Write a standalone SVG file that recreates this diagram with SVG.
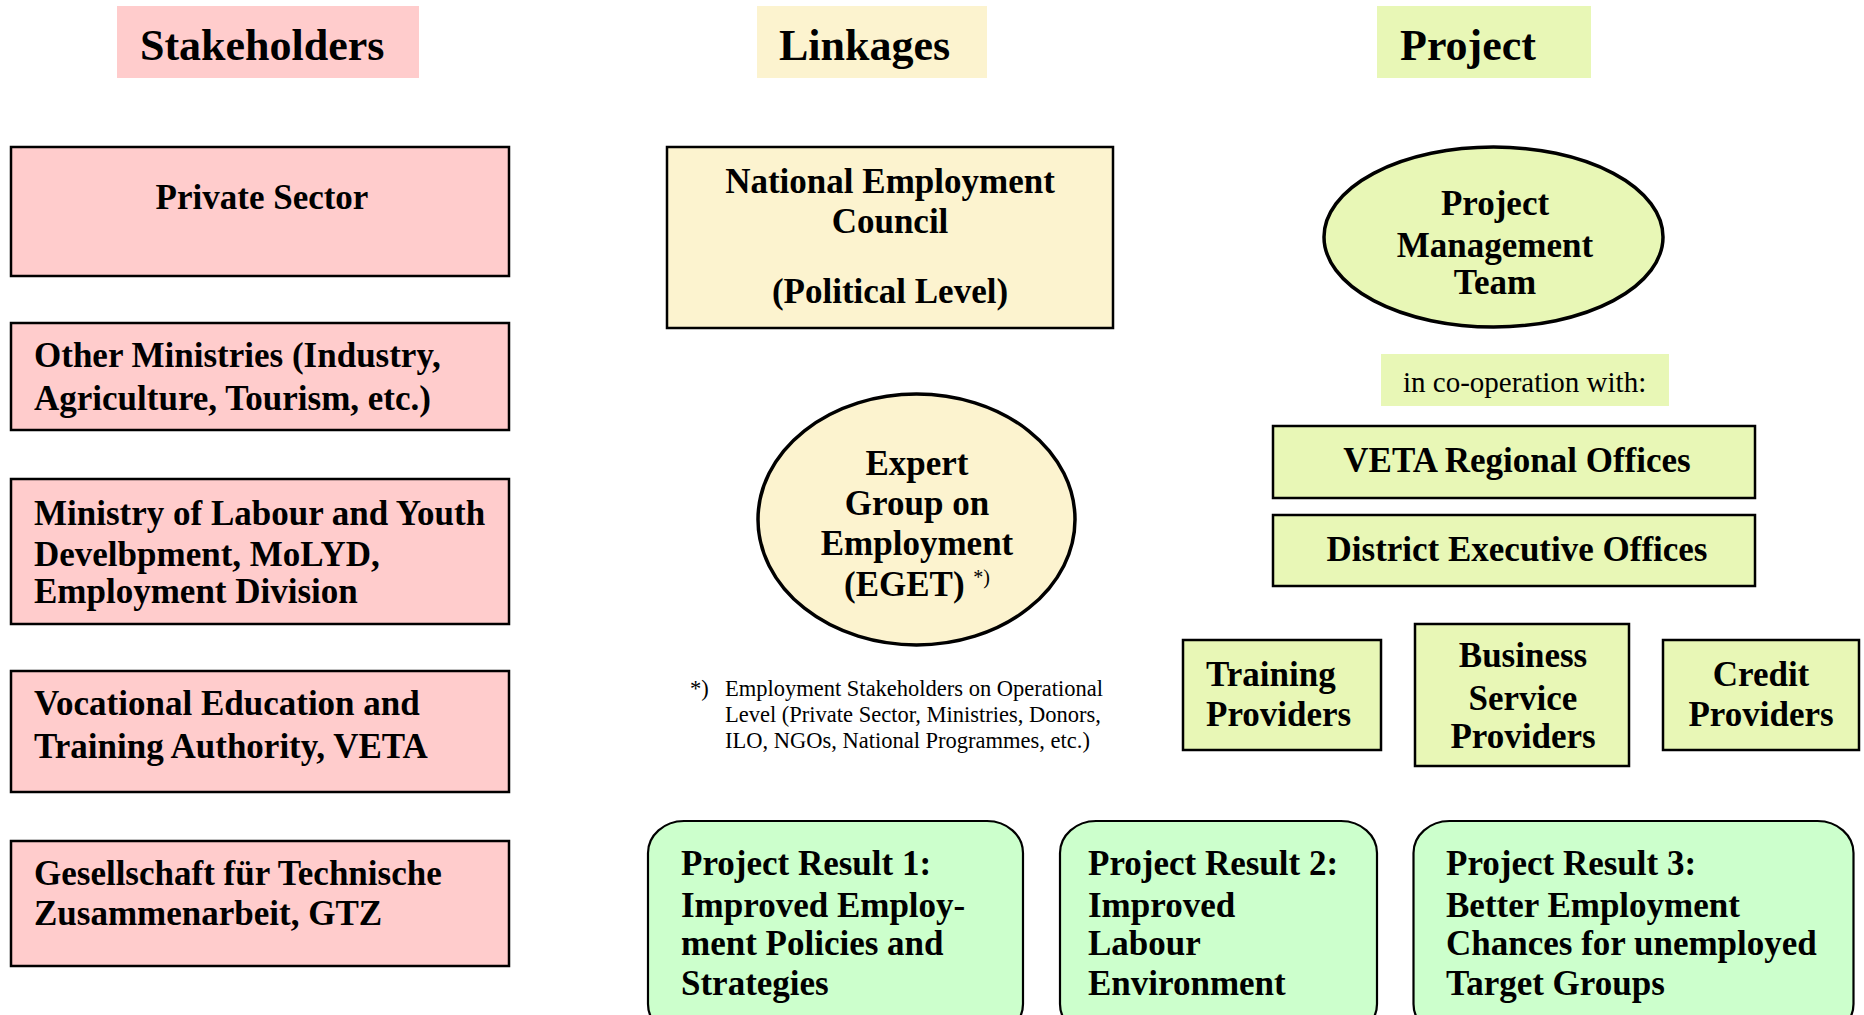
<svg xmlns="http://www.w3.org/2000/svg" width="1864" height="1015" viewBox="0 0 1864 1015">
<style>
text{font-family:"Liberation Serif","Times New Roman",serif;fill:#000}
.b{font-weight:bold;font-size:35px}
.h{font-weight:bold;font-size:44px}
.m{text-anchor:middle}
.fn{font-size:22.5px}
.pk{fill:#FFCCCC;stroke:#000;stroke-width:2.5}
.yl{fill:#FCF3CF;stroke:#000;stroke-width:2.5}
.lm{fill:#E8F7B6;stroke:#000;stroke-width:2.5}
.gr{fill:#CCFFCC;stroke:#000;stroke-width:2.2}
.el{stroke-width:3.5}
</style>
<rect width="1864" height="1015" fill="#fff"/>
<g id="header-stakeholders"><rect x="117" y="6" width="302" height="72" fill="#FFCCCC"/><text class="h" x="140" y="60">Stakeholders</text></g>
<g id="header-linkages"><rect x="757" y="6" width="230" height="72" fill="#FCF3CF"/><text class="h" x="779" y="60">Linkages</text></g>
<g id="header-project"><rect x="1377" y="6" width="214" height="72" fill="#E8F7B6"/><text class="h" x="1400" y="60">Project</text></g>

<g id="private-sector"><rect class="pk" x="11" y="147" width="498" height="129"/><text class="b m" x="262" y="209">Private Sector</text></g>
<g id="other-ministries"><rect class="pk" x="11" y="323" width="498" height="107"/><text class="b" x="34" y="367">Other Ministries (Industry,</text><text class="b" x="34" y="410">Agriculture, Tourism, etc.)</text></g>
<g id="molyd"><rect class="pk" x="11" y="479" width="498" height="145"/><text class="b" x="34" y="525">Ministry of Labour and Youth</text><text class="b" x="34" y="566">Develbpment, MoLYD,</text><text class="b" x="34" y="603">Employment Division</text></g>
<g id="veta"><rect class="pk" x="11" y="671" width="498" height="121"/><text class="b" x="34" y="715">Vocational Education and</text><text class="b" x="34" y="758">Training Authority, VETA</text></g>
<g id="gtz"><rect class="pk" x="11" y="841" width="498" height="125"/><text class="b" x="34" y="885">Gesellschaft für Technische</text><text class="b" x="34" y="925">Zusammenarbeit, GTZ</text></g>

<g id="nec"><rect class="yl" x="667" y="147" width="446" height="181"/><text class="b m" x="890" y="193">National Employment</text><text class="b m" x="890" y="233">Council</text><text class="b m" x="890" y="303">(Political Level)</text></g>
<g id="eget"><ellipse class="yl el" cx="916.5" cy="519.5" rx="158.5" ry="125.5"/><text class="b m" x="917" y="475">Expert</text><text class="b m" x="917" y="515">Group on</text><text class="b m" x="917" y="555">Employment</text><text class="b m" x="917" y="596">(EGET) <tspan font-size="20" font-weight="normal" dy="-12">*)</tspan></text></g>
<g id="footnote"><text class="fn" x="690" y="696">*)</text><text class="fn" x="725" y="696">Employment Stakeholders on Operational</text><text class="fn" x="725" y="722">Level (Private Sector, Ministries, Donors,</text><text class="fn" x="725" y="748">ILO, NGOs, National Programmes, etc.)</text></g>

<g id="pmt"><ellipse class="lm el" cx="1493.5" cy="237" rx="169.5" ry="90"/><text class="b m" x="1495" y="215">Project</text><text class="b m" x="1495" y="257">Management</text><text class="b m" x="1495" y="294">Team</text></g>
<g id="cooperation"><rect x="1381" y="354" width="288" height="52" fill="#E8F7B6"/><text x="1403" y="392" font-size="29">in  co-operation with:</text></g>
<g id="veta-regional"><rect class="lm" x="1273" y="426" width="482" height="72"/><text class="b m" x="1517" y="472">VETA Regional Offices</text></g>
<g id="district"><rect class="lm" x="1273" y="515" width="482" height="71"/><text class="b m" x="1517" y="561">District Executive Offices</text></g>
<g id="training"><rect class="lm" x="1183" y="640" width="198" height="110"/><text class="b" x="1206" y="686">Training</text><text class="b" x="1206" y="726">Providers</text></g>
<g id="business"><rect class="lm" x="1415" y="624" width="214" height="142"/><text class="b m" x="1523" y="667">Business</text><text class="b m" x="1523" y="710">Service</text><text class="b m" x="1523" y="748">Providers</text></g>
<g id="credit"><rect class="lm" x="1663" y="640" width="196" height="110"/><text class="b m" x="1761" y="686">Credit</text><text class="b m" x="1761" y="726">Providers</text></g>

<g id="result1"><rect class="gr" x="648" y="821" width="375" height="215" rx="36" ry="32"/><text class="b" x="681" y="875">Project Result 1:</text><text class="b" x="681" y="917">Improved Employ-</text><text class="b" x="681" y="955">ment Policies and</text><text class="b" x="681" y="995">Strategies</text></g>
<g id="result2"><rect class="gr" x="1060" y="821" width="317" height="215" rx="36" ry="32"/><text class="b" x="1088" y="875">Project Result 2:</text><text class="b" x="1088" y="917">Improved</text><text class="b" x="1088" y="955">Labour</text><text class="b" x="1088" y="995">Environment</text></g>
<g id="result3"><rect class="gr" x="1413.5" y="821" width="440" height="215" rx="36" ry="32"/><text class="b" x="1446" y="875">Project Result 3:</text><text class="b" x="1446" y="917">Better Employment</text><text class="b" x="1446" y="955">Chances for unemployed</text><text class="b" x="1446" y="995">Target Groups</text></g>
<g id="connectors"></g>
</svg>
